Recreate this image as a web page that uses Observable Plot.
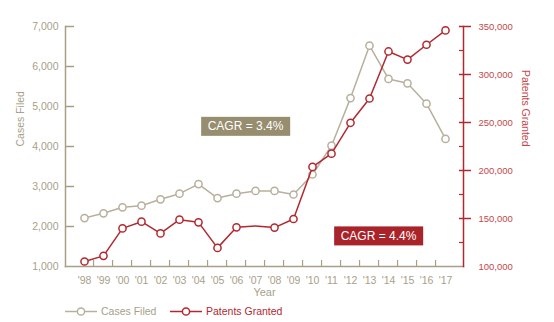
<!DOCTYPE html>
<html><head><meta charset="utf-8">
<script src="https://cdn.jsdelivr.net/npm/d3@7"></script>
<script src="https://cdn.jsdelivr.net/npm/@observablehq/plot@0.6"></script>
<style>
body{margin:0;background:#fff;font-family:"Liberation Sans",Arial,sans-serif}
#chart svg{display:block}
</style>
</head><body><div id="chart"></div><div id="legend"></div><script>
const years = ["'98","'99","'00","'01","'02","'03","'04","'05","'06","'07","'08","'09","'10","'11","'12","'13","'14","'15","'16","'17"];
const casesFiled = [2210,2330,2480,2520,2680,2820,3060,2710,2820,2890,2890,2800,3300,4020,5210,6520,5690,5580,5070,4190];
const patentsGranted = [105200,111100,139700,146700,134500,148800,146000,119400,140800,142200,140500,149500,203700,217500,249700,275000,324000,315500,331000,345900];
const patentsMarker = [1,1,1,1,1,1,1,1,1,0,1,1,1,1,1,1,1,1,1,1];
const leftTicks = [1000,2000,3000,4000,5000,6000,7000];
const rightTicks = [100000,150000,200000,250000,300000,350000];
const rightMinorTicks = [125000,175000,225000,275000,325000];
const seriesNames = ["Cases Filed","Patents Granted"];
const annotations = [
  {label:"CAGR = 3.4%", year:"'06", cases:4500, series:0},
  {label:"CAGR = 4.4%", year:"'13", patents:131700, series:1}
];

const GRAY_LINE = "#b7b09c", GRAY_AXIS = "#a89f86", GRAY_TEXT = "#a8a08a", GRAY_BOX = "#978d6f";
const RED = "#b3282f", RED_TEXT = "#c4494e", RED_BOX = "#a8232a";

const W = 554, H = 298, mL = 65, mR = 91, mT = 26, mB = 32;
const pMin = 100000, pMax = 350000, cMin = 1000, cMax = 7000;
const toLeft = p => cMin + (p - pMin) * (cMax - cMin) / (pMax - pMin);
const fromLeft = v => pMin + (v - cMin) * (pMax - pMin) / (cMax - cMin);
const fmt = d3.format(",");

const rows = years.map((y, i) => ({year: y, cases: casesFiled[i], patents: toLeft(patentsGranted[i]), marker: patentsMarker[i] === 1}));
const step = (W - mL - mR) / years.length;
const ann = annotations.map(a => ({...a, v: a.series === 0 ? a.cases : toLeft(a.patents)}));

const plot = Plot.plot({
  width: W, height: H, marginLeft: mL, marginRight: mR, marginTop: mT, marginBottom: mB,
  style: {fontFamily: '"Liberation Sans",Arial,sans-serif', fontSize: "10px", background: "transparent", overflow: "visible"},
  x: {type: "point", domain: years, padding: 0.5, label: null, axis: null},
  y: {domain: [cMin, cMax], label: null, axis: null},
  marks: [
    // left axis
    Plot.axisY({anchor: "left", ticks: leftTicks, tickFormat: fmt, tickSize: 0, tickPadding: 7, fill: GRAY_TEXT, stroke: "none", fontSize: 10.5, label: null}),
    Plot.axisY({anchor: "left", ticks: leftTicks.slice(1), tickSize: 9, insetLeft: 9, stroke: GRAY_AXIS, strokeWidth: 1.5, fill: "none", label: null}),
    // right axis
    Plot.axisY({anchor: "right", ticks: rightTicks.map(toLeft), tickFormat: d => fmt(Math.round(fromLeft(d) / 1000) * 1000), tickSize: 0, tickPadding: 15, fill: RED_TEXT, stroke: "none", fontSize: 9.5, label: null}),
    Plot.axisY({anchor: "right", ticks: rightTicks.slice(1).map(toLeft), tickSize: 12, insetRight: 5, stroke: RED, strokeWidth: 1.5, fill: "none", label: null}),
    Plot.axisY({anchor: "right", ticks: rightMinorTicks.map(toLeft), tickSize: 5, insetRight: 5, stroke: RED, strokeWidth: 1.2, fill: "none", label: null}),
    // x axis
    Plot.axisX({anchor: "bottom", ticks: years.slice(1), tickSize: 6, insetBottom: 6, dx: -step / 2, stroke: GRAY_AXIS, strokeWidth: 1.2, fill: "none", label: null}),
    Plot.axisX({anchor: "bottom", ticks: years, tickSize: 0, tickPadding: 10, fill: GRAY_TEXT, stroke: "none", fontSize: 10.5, label: null}),
    Plot.text(["Year"], {frameAnchor: "bottom", dy: 29, fill: GRAY_TEXT, fontSize: 11}),
    Plot.text([seriesNames[0]], {frameAnchor: "left", rotate: -90, dx: -45, fill: GRAY_TEXT, fontSize: 10.5}),
    Plot.text([seriesNames[1]], {frameAnchor: "right", rotate: 90, dx: 62, fill: RED_TEXT, fontSize: 10.5}),
    // axis lines
    Plot.frame({anchor: "left", stroke: GRAY_AXIS, strokeWidth: 1.5}),
    Plot.frame({anchor: "bottom", stroke: GRAY_AXIS, strokeWidth: 1.5}),
    Plot.frame({anchor: "right", stroke: RED, strokeWidth: 1.5}),
    // series
    Plot.line(rows, {x: "year", y: "cases", stroke: GRAY_LINE, strokeWidth: 1.5}),
    Plot.dot(rows, {x: "year", y: "cases", r: 3.6, fill: "white", stroke: GRAY_LINE, strokeWidth: 1.5}),
    Plot.line(rows, {x: "year", y: "patents", stroke: RED, strokeWidth: 1.5}),
    Plot.dot(rows.filter(d => d.marker), {x: "year", y: "patents", r: 3.6, fill: "white", stroke: RED, strokeWidth: 1.5}),
    // annotations
    Plot.text(ann.filter(a => a.series === 0), {x: "year", y: "v", text: "label", dx: 9, fill: "white", fontSize: 12, className: "cagr-0"}),
    Plot.text(ann.filter(a => a.series === 1), {x: "year", y: "v", text: "label", dx: 9, fill: "white", fontSize: 12, className: "cagr-1"})
  ]
});
document.getElementById("chart").append(plot);

// boxes behind annotation labels
[["cagr-0", GRAY_BOX], ["cagr-1", RED_BOX]].forEach(([cls, col]) => {
  const g = plot.querySelector("." + cls);
  if (!g) return;
  g.querySelectorAll("text").forEach(t => {
    const b = t.getBBox();
    const r = document.createElementNS("http://www.w3.org/2000/svg", "rect");
    const px = 6.5, ph = 19;
    r.setAttribute("x", b.x - px);
    r.setAttribute("y", b.y + b.height / 2 - ph / 2);
    r.setAttribute("width", b.width + 2 * px);
    r.setAttribute("height", ph);
    r.setAttribute("fill", col);
    if (t.getAttribute("transform")) r.setAttribute("transform", t.getAttribute("transform"));
    t.parentNode.insertBefore(r, t);
  });
});

// legend
const leg = d3.select("#legend").append("svg").attr("width", W).attr("height", 24)
  .style("font-family", '"Liberation Sans",Arial,sans-serif').style("font-size", "10.5px");
const items = [
  {name: seriesNames[0], color: GRAY_LINE, text: GRAY_TEXT, x: 65},
  {name: seriesNames[1], color: RED, text: RED, x: 170}
];
items.forEach(it => {
  const g = leg.append("g").attr("transform", `translate(${it.x},13.5)`);
  g.append("line").attr("x1", 0).attr("x2", 32).attr("stroke", it.color).attr("stroke-width", 1.5);
  g.append("circle").attr("cx", 16).attr("r", 3.6).attr("fill", "white").attr("stroke", it.color).attr("stroke-width", 1.5);
  g.append("text").attr("x", 36).attr("dy", "0.35em").attr("fill", it.text).text(it.name);
});
</script></body></html>
